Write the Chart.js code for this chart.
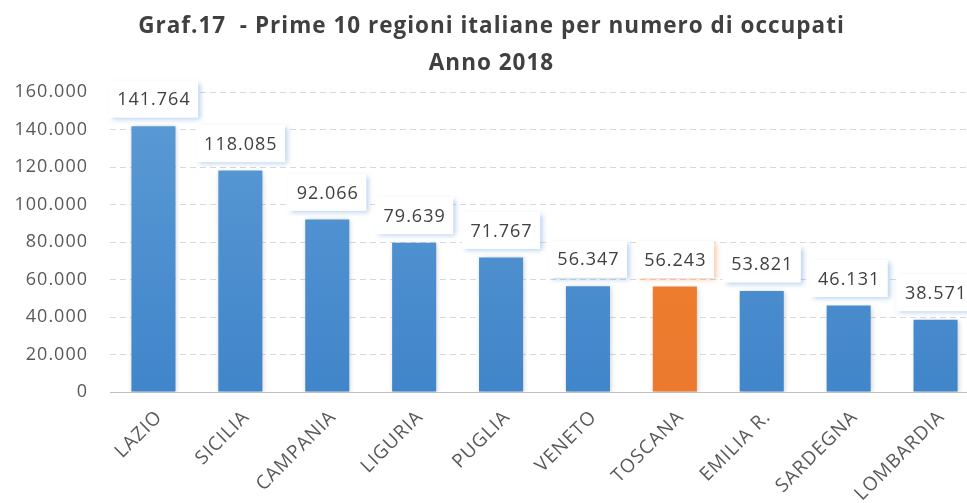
<!DOCTYPE html>
<html>
<head>
<meta charset="utf-8">
<script src="https://cdn.jsdelivr.net/npm/chart.js@4/dist/chart.umd.min.js"></script>
<style>
  html, body { margin: 0; padding: 0; background: #ffffff; overflow: hidden; }
  #wrap { width: 983px; height: 503px; position: relative; }
</style>
</head>
<body>
<div id="wrap"><canvas id="c" width="983" height="503"></canvas></div>
<script>
const titleLines = ['Graf.17  - Prime 10 regioni italiane per numero di occupati', 'Anno 2018'];
const categories = ['LAZIO', 'SICILIA', 'CAMPANIA', 'LIGURIA', 'PUGLIA', 'VENETO', 'TOSCANA', 'EMILIA R.', 'SARDEGNA', 'LOMBARDIA'];
const occupati = [141764, 118085, 92066, 79639, 71767, 56347, 56243, 53821, 46131, 38571];
const highlighted = ['TOSCANA'];
const yTickValues = [0, 20000, 40000, 60000, 80000, 100000, 120000, 140000, 160000];

const BLUE = '#4f8fd2';
const ORANGE = '#ed7d31';

function fmt(v) {
  return Math.round(v).toString().replace(/\B(?=(\d{3})+(?!\d))/g, '.');
}

function barFill(ctx) {
  const chart = ctx.chart;
  const area = chart.chartArea;
  const isHi = highlighted.includes(categories[ctx.dataIndex]);
  if (!area) return isHi ? ORANGE : BLUE;
  const g = chart.ctx.createLinearGradient(0, area.top, 0, area.bottom);
  if (isHi) {
    g.addColorStop(0, '#ee7f30');
    g.addColorStop(1, '#ec7a2e');
  } else {
    g.addColorStop(0, '#5b9bd5');
    g.addColorStop(1, '#4185ca');
  }
  return g;
}

const spacing = {
  id: 'spacing',
  beforeUpdate(chart) { chart.ctx.letterSpacing = '1px'; },
  beforeDraw(chart) { chart.ctx.letterSpacing = '1px'; }
};

const titlePlugin = {
  id: 'titlePlugin',
  afterDraw(chart) {
    const c = chart.ctx;
    c.save();
    c.letterSpacing = '1px';
    c.font = 'bold 22.5px "Open Sans", sans-serif';
    c.fillStyle = '#404040';
    c.textAlign = 'center';
    c.textBaseline = 'middle';
    const cx = chart.width / 2;
    c.fillText(titleLines[0], cx, 27);
    c.fillText(titleLines[1], cx, 64);
    c.restore();
  }
};

const barShadow = {
  id: 'barShadow',
  beforeDatasetsDraw(chart) {
    const c = chart.ctx;
    c.save();
    c.shadowColor = 'rgba(0,0,0,0.22)';
    c.shadowBlur = 5;
    c.shadowOffsetX = 1;
    c.shadowOffsetY = 1;
  },
  afterDatasetsDraw(chart) {
    chart.ctx.restore();
  }
};

const valueLabels = {
  id: 'valueLabels',
  afterDatasetsDraw(chart) {
    const c = chart.ctx;
    const meta = chart.getDatasetMeta(0);
    c.save();
    c.letterSpacing = '1px';
    c.font = '18px "Open Sans", sans-serif';
    c.textAlign = 'center';
    c.textBaseline = 'middle';
    meta.data.forEach((el, i) => {
      const txt = fmt(occupati[i]);
      const w = c.measureText(txt).width + 16;
      const h = 37;
      const cx = el.x;
      const cy = el.y - 27;
      const isHi = highlighted.includes(categories[i]);
      c.save();
      c.shadowColor = isHi ? 'rgba(237,125,49,0.4)' : 'rgba(79,143,210,0.4)';
      c.shadowBlur = 5;
      c.shadowOffsetX = 3;
      c.shadowOffsetY = 2;
      c.fillStyle = '#ffffff';
      c.fillRect(cx - w / 2, cy - h / 2, w, h);
      c.restore();
      c.fillStyle = '#404040';
      c.fillText(txt, cx + 0.5, cy + 1);
    });
    c.restore();
  }
};

new Chart(document.getElementById('c'), {
  type: 'bar',
  data: {
    labels: categories,
    datasets: [{
      data: occupati,
      backgroundColor: barFill,
      borderWidth: 0,
      categoryPercentage: 1,
      barPercentage: 0.507
    }]
  },
  options: {
    responsive: false,
    animation: false,
    layout: { padding: { left: 0, right: 4, top: 92, bottom: 0 } },
    plugins: {
      legend: { display: false },
      tooltip: { enabled: false },
      title: { display: false }
    },
    scales: {
      x: {
        offset: true,
        grid: { display: false, drawTicks: false },
        border: { display: true, color: '#bfbfbf', width: 1 },
        ticks: {
          color: '#595959',
          font: { family: '"Open Sans", sans-serif', size: 19 },
          minRotation: 45,
          maxRotation: 45,
          padding: 14,
          labelOffset: 6,
          autoSkip: false
        },
        afterFit(scale) { scale.height = 111; }
      },
      y: {
        min: 0,
        max: 160000,
        afterBuildTicks(scale) { scale.ticks = yTickValues.map(v => ({ value: v })); },
        grid: { color: '#d9d9d9', drawTicks: false, lineWidth: 1 },
        border: { display: false, dash: [6, 4] },
        ticks: {
          color: '#595959',
          font: { family: '"Open Sans", sans-serif', size: 18 },
          padding: 22,
          callback: (v) => fmt(v)
        },
        afterFit(scale) { scale.width = 110; }
      }
    }
  },
  plugins: [spacing, titlePlugin, barShadow, valueLabels]
});
</script>
</body>
</html>
